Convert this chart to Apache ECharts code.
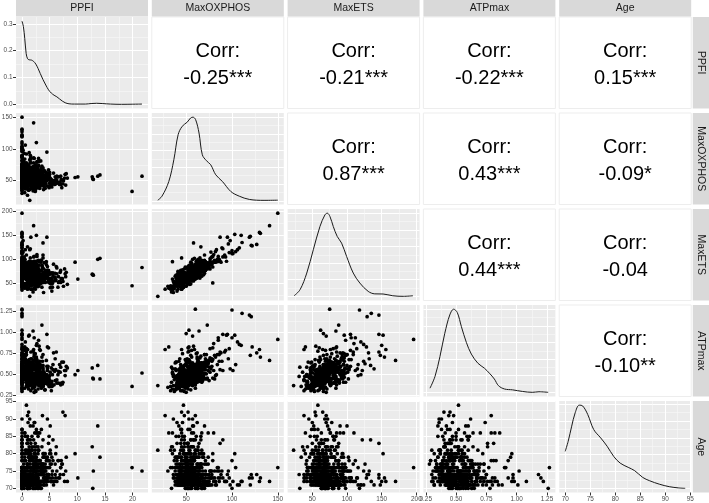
<!DOCTYPE html>
<html><head><meta charset="utf-8">
<script src="https://cdn.jsdelivr.net/npm/echarts@6/dist/echarts.min.js"></script>
<style>html,body{margin:0;padding:0;background:#fff}#c{width:709px;height:503px}</style>
</head><body><div id="c"></div>
<script>
// ---------- data ----------
const varNames = ['PPFI','MaxOXPHOS','MaxETS','ATPmax','Age'];

const ppfi = [
0,1.4,9.6,10.1,12.7,12.9,12.8,13.7,14.1,19.9,
21.7,2.1,2.6,4.5,3.6,0,0,0,0,0,
2.0,0,0,0,0,0,1.5,3.8,1.0,1.5,
0,1.6,2.3,0,0,1.2,0,0.6,0,3.0,
1.0,0.5,0.8,1.2,7.4,7.8,0,
0,1.8,3.2,0.6,2.4,0,4.5,1.1,5.6,2.9,
0,1.5,3.7,0.3,2.1,6.3,0,1.3,4.1,2.7,
0,0.9,3.4,1.9,0,5.1,2.3,7.2,1.6,0.4,
2.8,0,1.2,3.9,0.7,4.8,0,2.2,6.8,1.4,
0,3.1,1.7,2.6,0.2,5.4,1.0,0,3.5,2.0,
0,4.3,1.3,2.5,0.8,3.6,0,6.0,1.9,2.9,
0,1.6,3.3,0.5,4.9,2.2,0,7.9,1.1,2.7,
0,3.8,1.4,0.9,5.7,2.4,0,1.8,3.0,4.4,
0,2.1,0.3,3.4,1.5,6.5,0,2.6,4.0,1.2,
0,2.9,1.7,4.6,0.6,3.2,0,5.3,2.0,1.0,
0,1.3,3.7,2.3,0.4,4.2,1.9,0,7.0,2.8,
0,1.1,3.5,0.8,2.5,5.0,0,1.6,3.9,2.2,
0,4.7,1.4,2.7,0.2,3.1,0,6.1,1.8,2.4,
0,1.0,3.6,2.0,0.7,4.4,0,2.9,8.2,1.5,
0,2.6,1.2,3.8,0.5,4.9,0,2.1,1.7,3.3,
0,1.9,0.9,3.0,2.3,6.6,0,1.3,4.1,2.8,
0,3.4,1.1,2.4,0.6,5.5,0,1.6,3.7,2.1,
0,1.4,3.9,0.3,2.5,4.6,0,1.8,7.5,2.7,
0,1.2,3.2,2.0,0.8,4.3,0,2.6,5.9,1.5,
0,2.2,1.0,3.6,0.4,4.8,0,1.7,3.1,6.2,
0,1.9,0.7,2.8,3.5,1.3,0,4.5,2.4,5.2,
0,1.1,3.3,2.0,0.5,4.0,0,2.6,1.6,7.7,
0,2.3,1.4,3.8,0.9,5.6,0,2.7,1.8,4.2,
0,1.5,3.0,2.2,0.6,4.7,0,1.2,8.0,2.9,
0,1.7,3.4,2.5,0.3,5.1,0,1.0,3.9,2.1,
0,1.3,2.8,0.8,4.4,1.9,0,3.2,2.4,6.9,
0,1.6,2.9,0.5,4.1,0,3.5,1.2,5.3,2.2,
0,1.1,3.7,4.6,0,2.0,1.4,3.0,0,2.6,
0,0,1.2,2.6,3.9,0.7,5.0,1.8,0,2.3,
0,0,2.1,1.3,4.4,3.0,0.5,6.1,1.6,2.8,
0,0,0.9,3.3,2.2,1.5,4.1,5.5,0,2.9,
0,1.7,2.5,0.4,3.6,4.8,1.0,7.1,0,2.0,
0,0,1.4,2.7,3.1,0.6,4.6,1.9,5.8,2.4,
0,0,2.3,1.1,3.8,0.8,2.6,4.3,6.6,1.5,
0,0,1.6,3.4,0.3,2.1,5.2,1.2,2.8,3.9,
0,0,2.0,0.7,4.0,1.4,3.2,2.5,0,7.3,
0,0,1.3,2.9,0.5,3.7,1.9,4.7,2.2,6.0,
0,0,0.8,2.4,1.7,3.5,2.9,0.2,4.9,1.1,
0,0,1.5,3.0,2.1,0.9,4.2,1.8,5.4,2.6,
0,0,2.7,1.0,3.3,0.6,2.0,4.5,1.4,3.6,
0,0,1.2,2.3,0.4,3.8,1.6,2.9,6.3,0,
0,0,0.7,1.9,3.1,2.5,4.0,1.2,2.2,5.0,
0,0,1.5,2.8,0.9,3.4,1.3,4.6,2.0,7.0,
0,0,1.8,2.6,3.5,1.0,4.2,0.5,2.3,3.0,
0,0,1.1,2.4,3.9,0.6,5.1,1.7,2.9,0,
0,0,0.5,1.2,2.0,2.8,3.5,0.9,1.6,4.3,
0,0,1.0,1.8,2.5,3.2,0.4,4.0,2.2,1.3,
0,0,0.7,1.5,2.3,3.0,3.8,1.1,0.3,2.7,
0,0,1.9,0.6,2.9,1.4,3.3,2.4,4.6,0.8,
0,0,1.2,2.1,0.5,3.6,1.7,2.6,5.3,1.0,
0,0,0.9,1.6,2.4,3.1,1.3,0.4,3.9,2.0
];
const maxOXPHOS = [
150,19,55,56,56,52,53,57,59,33,
57,141,110,95,73,60,100,111,119,121,
64,130,131,120,127,122,79,58,66,45,
103,87,35,53,50,57,90,106,100,85,
27,31,47,52,45,60,57,
45,52,38,58,61,67,42,55,48,63,
56,47,53,72,44,50,35,59,65,80,
62,41,57,49,88,54,46,39,68,51,
58,43,74,36,60,52,55,47,44,83,
30,64,56,50,77,40,61,48,70,53,
58,46,66,37,92,55,71,51,45,59,
40,78,49,63,57,85,52,43,54,68,
65,42,57,46,62,33,96,51,74,56,
48,60,44,81,53,47,59,39,66,50,
73,55,41,58,64,45,87,52,34,61,
54,47,63,56,79,38,69,44,57,50,
61,36,49,70,53,60,42,84,55,46,
57,51,64,40,98,58,76,45,52,67,
50,59,44,72,55,62,37,48,54,90,
66,43,57,70,47,39,53,78,61,56,
46,52,68,60,35,56,82,49,45,63,
59,51,43,75,54,47,64,38,58,86,
42,62,56,49,69,53,104,46,50,57,
63,55,48,41,76,60,51,66,44,58,
55,71,50,62,45,67,39,54,80,52,
68,47,60,53,44,94,58,57,65,48,
49,66,59,51,84,41,73,56,45,54,
60,39,54,65,57,50,46,79,62,53,
71,56,47,64,43,58,89,52,61,48,
44,58,67,53,62,46,77,40,55,59,
52,69,45,57,63,50,101,42,55,48,
38,46,52,41,55,48,60,35,44,50,
54,62,48,53,42,70,36,58,66,45,
41,58,63,49,55,72,46,38,86,52,
53,67,44,60,50,39,76,48,57,64,
47,75,58,43,66,51,56,45,34,70,
62,55,49,93,57,41,68,52,44,59,
56,81,45,50,61,37,53,65,49,58,
39,64,54,60,47,78,55,51,46,69,
71,50,57,44,63,59,42,55,67,48,
60,46,52,74,57,63,40,49,97,51,
54,65,48,58,45,61,70,53,43,56,
59,43,66,51,57,47,62,82,54,40,
48,68,56,45,61,52,58,44,50,73,
62,52,47,57,64,77,43,54,68,50,
55,44,60,49,71,53,46,66,57,108,
45,61,52,58,40,65,55,75,48,63,
70,50,43,57,62,46,53,59,67,44,
51,63,46,58,44,55,49,67,40,53,
57,45,60,52,48,66,42,55,63,74,
50,56,62,47,53,59,44,66,71,49,
43,61,55,68,48,52,76,57,64,45,
58,46,51,63,56,42,59,70,53,60,
65,52,45,57,49,62,54,40,58,67,
47,55,60,51,74,44,57,63,50,41,
54,62,48,56,66,52,45,59,53,69
];
const maxETS = [
196,23,94,59,69,67,68,100,102,45,
83,170,150,146,88,75,118,135,146,129,
84,156,154,148,131,128,51,134,126,103,
152,146,95,62,66,70,105,120,112,98,
38,40,58,65,54,70,72,
61,54,65,68,96,65,62,67,72,69,
63,70,52,93,54,82,36,80,61,110,
91,49,63,84,94,70,42,60,89,64,
62,62,92,31,88,60,85,52,54,120,
44,68,85,59,115,34,84,59,98,58,
66,69,67,53,109,87,78,71,38,86,
66,92,53,100,59,106,49,64,73,83,
70,61,73,43,90,38,132,57,88,89,
64,63,72,94,87,42,82,49,93,55,
83,79,38,77,77,76,96,72,32,88,
82,56,69,92,84,52,68,66,77,63,
65,54,63,71,80,69,70,95,66,78,
75,53,95,47,139,55,101,56,77,74,
57,84,42,93,66,95,39,67,48,122,
96,51,63,109,47,53,50,105,81,69,
48,73,85,59,59,64,116,54,55,97,
77,53,70,87,88,42,88,48,84,96,
47,87,55,66,82,85,116,65,44,84,
92,65,52,75,80,77,48,91,62,72,
58,95,65,61,71,77,67,60,95,85,
87,48,90,62,77,96,81,70,92,52,
55,92,59,69,100,71,80,76,38,80,
89,47,59,103,59,66,42,106,82,66,
77,77,61,64,68,67,124,58,73,80,
60,61,98,62,97,41,103,50,80,65,
59,95,43,76,75,82,112,60,49,73,
52,48,71,44,60,66,62,40,58,70,
74,70,55,68,47,90,45,63,82,58,
50,77,70,68,59,84,51,46,100,63,
71,80,54,66,62,44,96,58,74,72,
63,88,64,56,86,57,66,50,43,80,
70,75,57,105,68,55,79,60,58,83,
65,98,56,71,76,50,61,79,55,67,
47,84,60,79,52,89,70,64,52,77,
92,59,76,50,75,66,49,69,85,62,
82,55,62,85,73,71,53,65,114,60,
64,78,61,70,60,82,78,67,51,63,
72,54,74,67,77,56,81,94,59,49,
66,76,70,55,72,69,67,54,56,90,
75,70,53,64,77,94,56,65,80,58,
62,58,83,60,81,64,61,77,70,124,
55,73,69,66,47,88,71,84,60,72,
79,64,55,74,70,54,68,72,88,52,
63,76,57,72,53,68,61,85,50,65,
70,56,74,63,58,80,52,66,79,90,
63,70,78,56,67,74,55,81,88,61,
54,76,68,84,62,65,92,71,79,57,
73,58,61,79,68,52,72,86,64,75,
80,63,59,70,64,72,69,51,74,83,
57,69,73,60,88,56,71,78,61,52,
66,75,60,72,81,64,55,69,68,80
];
const atpMax = [
0.91,0.36,0.49,0.54,0.57,0.44,0.45,0.60,0.44,0.35,
0.51,0.66,0.84,0.97,1.08,1.27,1.26,1.22,1.20,1.18,
1.01,0.79,0.70,0.72,0.75,0.82,0.45,0.60,0.62,0.55,
0.96,0.76,0.50,1.02,0.98,0.95,0.97,0.88,0.93,0.90,
0.79,0.82,0.52,0.45,0.40,0.48,0.62,
0.46,0.38,0.56,0.45,0.74,0.41,0.49,0.47,0.55,0.44,
0.43,0.52,0.36,0.73,0.44,0.39,0.52,0.53,0.49,0.86,
0.59,0.38,0.51,0.33,0.75,0.52,0.35,0.64,0.51,0.53,
0.38,0.56,0.54,0.47,0.43,0.81,0.44,0.55,0.61,0.49,
0.34,0.58,0.37,0.66,0.56,0.35,0.61,0.49,0.51,0.77,
0.57,0.40,0.54,0.29,0.76,0.52,0.44,0.68,0.43,0.56,
0.32,0.68,0.45,0.56,0.42,0.93,0.43,0.54,0.65,0.44,
0.53,0.35,0.63,0.41,0.75,0.30,0.68,0.46,0.64,0.42,
0.54,0.45,0.46,0.44,0.63,0.49,0.40,0.64,0.50,0.53,
0.44,0.60,0.42,0.54,0.44,0.79,0.55,0.57,0.58,0.41,
0.49,0.36,0.65,0.45,0.81,0.31,0.58,0.43,0.58,0.40,
0.44,0.49,0.34,0.73,0.48,0.42,0.55,0.61,0.45,0.74,
0.38,0.59,0.50,0.48,0.56,0.83,0.52,0.55,0.64,0.43,
0.48,0.41,0.58,0.50,0.72,0.40,0.47,0.45,0.57,0.54,
0.46,0.51,0.37,0.73,0.45,0.35,0.59,0.59,0.47,0.78,
0.53,0.42,0.55,0.37,0.56,0.53,0.48,0.67,0.43,0.57,
0.58,0.42,0.46,0.42,0.63,0.49,0.41,0.63,0.47,0.65,
0.33,0.63,0.48,0.51,0.46,0.82,0.61,0.55,0.64,0.40,
0.52,0.39,0.60,0.39,0.80,0.39,0.52,0.51,0.53,0.42,
0.42,0.61,0.35,0.70,0.45,0.44,0.54,0.51,0.54,0.76,
0.42,0.57,0.49,0.53,0.37,0.96,0.45,0.59,0.69,0.37,
0.54,0.47,0.52,0.34,0.73,0.47,0.45,0.70,0.43,0.54,
0.39,0.55,0.47,0.57,0.42,0.61,0.41,0.67,0.68,0.39,
0.55,0.40,0.59,0.47,0.68,0.38,0.65,0.46,0.59,0.39,
0.38,0.56,0.40,0.67,0.51,0.37,0.67,0.46,0.45,0.79,
0.55,0.48,0.47,0.36,0.66,0.51,0.54,0.65,0.46,0.52,
0.31,0.30,0.32,0.33,0.31,0.29,0.33,0.32,0.30,0.28,
0.52,0.47,0.44,0.38,0.50,0.58,0.36,0.41,0.60,0.45,
0.42,0.55,0.48,0.61,0.39,0.66,0.35,0.45,0.73,0.50,
0.49,0.63,0.41,0.58,0.44,0.37,0.69,0.42,0.52,0.47,
0.53,0.58,0.45,0.38,0.71,0.40,0.48,0.36,0.40,0.62,
0.56,0.51,0.43,0.78,0.47,0.41,0.60,0.39,0.46,0.55,
0.44,0.72,0.50,0.46,0.54,0.43,0.40,0.63,0.37,0.49,
0.47,0.59,0.44,0.52,0.35,0.65,0.48,0.45,0.39,0.57,
0.68,0.45,0.56,0.41,0.50,0.61,0.37,0.47,0.54,0.43,
0.57,0.36,0.49,0.62,0.43,0.53,0.40,0.51,0.80,0.38,
0.52,0.60,0.39,0.55,0.46,0.48,0.64,0.44,0.34,0.42,
0.50,0.44,0.58,0.42,0.60,0.38,0.53,0.70,0.45,0.36,
0.48,0.62,0.46,0.40,0.56,0.49,0.44,0.37,0.41,0.59,
0.45,0.54,0.42,0.51,0.61,0.67,0.38,0.47,0.55,0.43,
0.53,0.39,0.57,0.47,0.63,0.41,0.45,0.59,0.43,0.85,
0.46,0.58,0.49,0.44,0.36,0.55,0.52,0.66,0.40,0.48,
0.60,0.50,0.42,0.48,0.52,0.39,0.46,0.56,0.63,0.37,
0.44,0.52,0.47,0.41,0.38,0.50,0.43,0.57,0.36,0.46,
0.49,0.40,0.54,0.45,0.37,0.59,0.35,0.48,0.51,0.64,
0.47,0.51,0.55,0.42,0.49,0.53,0.40,0.58,0.62,0.44,
0.43,0.57,0.46,0.61,0.41,0.48,0.67,0.50,0.56,0.39,
0.52,0.45,0.40,0.59,0.48,0.37,0.55,0.63,0.46,0.51,
0.58,0.49,0.44,0.53,0.43,0.56,0.47,0.38,0.45,0.60,
0.46,0.54,0.50,0.42,0.64,0.41,0.52,0.57,0.39,0.43,
0.50,0.55,0.45,0.49,0.59,0.47,0.41,0.53,0.44,0.61
];
const age = [
76,81,80,73,82,75,70,88,79,76,
75,72,72,74,72,76,70,72,73,74,
71,72,73,71,74,73,80,84,77,78,
80,83,86,75,72,79,73,71,78,76,
91,86,94,92,92,91,90,
72,75,71,78,73,80,74,76,84,70,
71,73,72,77,79,75,82,74,72,86,
73,76,71,78,74,81,72,77,75,70,
73,71,79,74,72,83,76,80,73,71,
75,72,74,77,73,79,85,72,70,76,
74,73,71,78,72,82,75,77,73,80,
71,74,76,72,78,73,87,75,70,74,
72,79,73,76,71,81,75,74,77,72,
73,84,71,75,72,78,74,76,80,73,
71,75,72,79,74,86,73,77,70,76,
72,81,74,73,78,75,71,83,76,72,
74,73,77,72,75,80,71,76,73,89,
73,74,79,72,71,78,75,73,82,77,
72,71,75,74,80,76,73,78,72,84,
71,74,72,77,73,85,76,75,79,70,
74,73,72,81,76,78,71,75,73,77,
72,74,80,71,78,73,83,76,72,75,
73,77,71,74,79,72,76,81,74,73,
75,72,78,73,71,76,80,74,72,88,
71,73,75,77,72,74,79,76,72,82,
73,71,74,78,75,72,84,73,76,80,
72,73,74,77,75,79,71,86,74,72,
76,72,73,75,71,78,74,73,81,77,
72,74,71,80,73,76,75,72,79,85,
74,73,76,72,71,77,73,83,75,78,
73,72,76,74,71,79,72,75,80,74,
72,74,71,76,73,78,75,80,72,77,
87,89,91,90,85,88,90,86,84,87,
71,73,72,75,77,74,76,79,72,70,
72,70,73,71,78,74,75,80,73,76,
74,72,71,76,73,79,72,75,82,71,
73,71,75,72,77,74,70,78,76,72,
75,73,72,71,74,81,73,76,72,79,
72,74,73,70,76,71,78,75,73,80,
71,72,74,77,73,75,72,84,71,74,
72,76,71,73,75,74,78,70,73,77,
73,71,74,72,79,76,71,73,75,74,
74,72,73,77,71,75,70,72,78,73,
71,73,75,74,72,76,73,81,74,71,
72,70,74,73,71,75,77,72,79,74,
73,75,72,71,74,80,76,73,72,71,
71,74,73,76,72,77,71,74,82,73,
72,73,76,71,75,72,74,78,70,76,
83,81,85,82,87,84,80,86,89,81,
82,84,81,83,80,85,88,79,82,86,
70,71,72,73,74,75,76,77,78,79,
72,73,70,71,74,72,73,76,75,78,
71,74,73,72,77,71,75,72,80,73,
76,72,71,74,73,70,78,72,74,81,
73,75,72,76,71,74,73,79,72,77,
72,74,83,71,73,76,82,75,72,74
];

// density curves
const ppfiDensX = [0,0.25,0.5,0.75,1.0,1.3,1.7,2.1,2.5,2.9,3.3,3.8,4.3,4.8,5.3,5.8,6.3,6.8,7.3,7.8,8.5,9.5,10.5,11.5,12.5,13.5,14.5,16,18,20,21.7];
const ppfiDensY = [0.31,0.29,0.245,0.19,0.17,0.166,0.165,0.16,0.15,0.134,0.115,0.092,0.072,0.054,0.042,0.034,0.028,0.02,0.012,0.006,0.002,0.001,0.001,0.001,0.003,0.004,0.003,0.001,0.0,0.0005,0.001];
const oxDensX = [19,23.6,31,36.5,41.2,45.6,51.1,54.8,57.4,60.3,64,67.6,72,76.8,82.3,89.6,98.8,107.9,118.9,135,150];
const oxDensY = [0.007,0.055,0.23,0.49,0.79,0.89,0.94,0.99,1.0,0.97,0.81,0.55,0.48,0.43,0.31,0.23,0.11,0.055,0.016,0.005,0.007];
const etsDensX = [23.7,32.3,42,51.4,61,68.2,71.6,75.4,80.2,85.9,92.2,99.4,109,118.5,130.5,140,152,166,181,195];
const etsDensY = [0.007,0.08,0.28,0.56,0.84,0.98,1.0,0.96,0.84,0.72,0.64,0.48,0.28,0.16,0.06,0.03,0.028,0.007,0.0,0.007];
const atpDensX = [0.285,0.326,0.367,0.407,0.448,0.48,0.51,0.544,0.585,0.626,0.68,0.734,0.775,0.816,0.85,0.9,0.966,1.047,1.129,1.184,1.26];
const atpDensY = [0.05,0.19,0.43,0.71,0.93,1.0,0.96,0.79,0.6,0.46,0.35,0.29,0.23,0.16,0.08,0.04,0.03,0.011,0.0,0.007,0.0];
const ageDensX = [70,70.6,71.3,72.0,72.8,73.5,74.5,75.7,77.1,78.4,79.7,81.0,82.6,83.9,85.5,86.9,88.8,90.8,92.7,94];
const ageDensY = [0.44,0.56,0.74,0.9,0.99,0.98,0.88,0.70,0.60,0.50,0.38,0.30,0.25,0.21,0.13,0.09,0.05,0.02,0.005,0.0];

// correlation labels (upper triangle), [row][col]
const corrLabels = [
  [null,'-0.25***','-0.21***','-0.22***','0.15***'],
  [null,null,'0.87***','0.43***','-0.09*'],
  [null,null,null,'0.44***','-0.04'],
  [null,null,null,null,'-0.10**'],
  [null,null,null,null,null]
];

// tick values
const majorTicks = [[0,5,10,15,20],[50,100,150],[50,100,150,200],[0.25,0.5,0.75,1.0,1.25],[70,75,80,85,90,95]];
const minorTicks = [[2.5,7.5,12.5,17.5],[25,75,125],[25,75,125,175],[0.375,0.625,0.875,1.125],[72.5,77.5,82.5,87.5,92.5]];
const densTicks = [0,0.1,0.2,0.3];
const densMinor = [0.05,0.15,0.25];
const normTicks = [0,0.2,0.4,0.6,0.8,1.0];
const normMinor = [0.1,0.3,0.5,0.7,0.9];

// ---------- build ----------
const FONT = '"Liberation Sans", Arial, Helvetica, sans-serif';
const vars = [ppfi, maxOXPHOS, maxETS, atpMax, age];
const dens = [[ppfiDensX,ppfiDensY],[oxDensX,oxDensY],[etsDensX,etsDensY],[atpDensX,atpDensY],[ageDensX,ageDensY]];
function expand(lo, hi){ const d=(hi-lo)*0.05; return [lo-d, hi+d]; }
const ranges = vars.map(v => expand(Math.min(...v), Math.max(...v)));
const densRanges = dens.map(d => expand(Math.min(...d[1]), Math.max(...d[1])));
const fmts = [v=>String(v), v=>String(v), v=>String(v), v=>Number(v).toFixed(2), v=>String(v)];

const PL=16, PT=17, PW=132, PH=91.5, DX=135.8, DY=96;
const grids=[], xAxes=[], yAxes=[], series=[], graphics=[];

function axisPair(dim, g, range, major, minor, showLabels, fmt, showGrid){
  const base = {type:'value', gridIndex:g, min:range[0], max:range[1],
    position: dim==='x' ? 'bottom' : 'left',
    axisLine:{show:false, onZero:false}};
  const maj = Object.assign({}, base, {
    axisTick:{show:showLabels, length:3, lineStyle:{color:'#333333', width:1}, customValues: major},
    axisLabel:{show:showLabels, customValues: major, formatter: fmt, fontSize:6.4, color:'#4D4D4D', fontFamily:FONT, margin:3.5},
    splitLine:{show:showGrid, lineStyle:{color:'#FFFFFF', width:1}}
  });
  const mnr = Object.assign({}, base, {
    axisTick:{show:false, customValues: minor},
    axisLabel:{show:false, customValues: minor},
    splitLine:{show:showGrid, lineStyle:{color:'#F8F8F8', width:0.6}}
  });
  return [maj, mnr];
}

for (let r=0; r<5; r++){
  for (let c=0; c<5; c++){
    const g = r*5+c;
    const left = PL + c*DX, top = PT + r*DY;
    const upper = r < c, diag = r === c;
    grids.push({left:left, top:top, width:PW, height:PH, show:true,
      backgroundColor: upper ? '#FFFFFF' : '#EBEBEB',
      borderWidth: upper ? 1 : 0, borderColor:'#EDEDED', containLabel:false, outerBoundsMode:'none'});
    const showX = (r === 4);
    xAxes.push(...axisPair('x', g, ranges[c], majorTicks[c], minorTicks[c], showX, fmts[c], !upper));
    const showY = (c === 0);
    if (diag){
      if (r === 0) yAxes.push(...axisPair('y', g, densRanges[0], densTicks, densMinor, showY, v=>Number(v).toFixed(1), true));
      else yAxes.push(...axisPair('y', g, densRanges[r], normTicks, normMinor, false, null, true));
    } else {
      yAxes.push(...axisPair('y', g, ranges[r], majorTicks[r], minorTicks[r], showY, fmts[r], !upper));
    }
    if (diag){
      const d = dens[c];
      series.push({type:'line', xAxisIndex:2*g, yAxisIndex:2*g, data: d[0].map((x,i)=>[x, d[1][i]]),
        symbol:'none', showSymbol:false, smooth:0.35, silent:true,
        lineStyle:{color:'#1A1A1A', width:1}});
    } else if (!upper){
      const xv = vars[c], yv = vars[r];
      series.push({type:'scatter', xAxisIndex:2*g, yAxisIndex:2*g, data: xv.map((x,i)=>[x, yv[i]]),
        symbol:'circle', symbolSize:3.7, silent:true, itemStyle:{color:'#000000', opacity:1}});
    } else {
      const cx = left + PW/2, cy = top + PH/2;
      graphics.push({type:'text', x:cx, y:cy-11.5, z:100, silent:true,
        style:{text:'Corr:', fill:'#000000', font:'20px '+FONT, align:'center', verticalAlign:'middle', textAlign:'center', textVerticalAlign:'middle'}});
      graphics.push({type:'text', x:cx, y:cy+15.5, z:100, silent:true,
        style:{text:corrLabels[r][c], fill:'#000000', font:'20px '+FONT, align:'center', verticalAlign:'middle', textAlign:'center', textVerticalAlign:'middle'}});
    }
  }
}
// strips
for (let c=0; c<5; c++){
  const left = PL + c*DX;
  graphics.push({type:'rect', z:50, silent:true, shape:{x:left, y:0, width:PW, height:16.5}, style:{fill:'#D9D9D9'}});
  graphics.push({type:'text', z:101, silent:true, x:left+PW/2, y:8.6,
    style:{text:varNames[c], fill:'#1A1A1A', font:'10.5px '+FONT, align:'center', verticalAlign:'middle', textAlign:'center', textVerticalAlign:'middle'}});
}
for (let r=0; r<5; r++){
  const top = PT + r*DY;
  graphics.push({type:'rect', z:50, silent:true, shape:{x:692.8, y:top, width:16.2, height:PH}, style:{fill:'#D9D9D9'}});
  graphics.push({type:'text', z:101, silent:true, x:701, y:top+PH/2, rotation:-Math.PI/2,
    style:{text:varNames[r], fill:'#1A1A1A', font:'10.5px '+FONT, align:'center', verticalAlign:'middle', textAlign:'center', textVerticalAlign:'middle'}});
}

const chart = echarts.init(document.getElementById('c'), null, {renderer:'canvas'});
chart.setOption({
  animation:false,
  backgroundColor:'#FFFFFF',
  textStyle:{fontFamily:FONT},
  grid: grids, xAxis: xAxes, yAxis: yAxes, series: series,
  graphic: {elements: graphics}
});
</script>
</body></html>
